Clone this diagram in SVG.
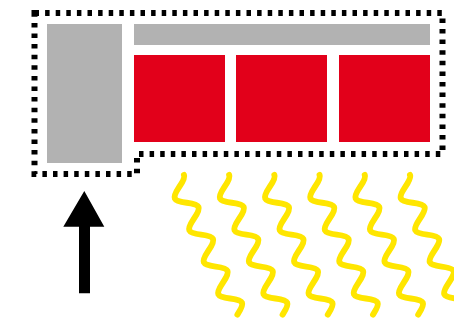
<svg xmlns="http://www.w3.org/2000/svg" xmlns:xlink="http://www.w3.org/1999/xlink" width="454" height="321" viewBox="0 0 454 321">
  <style>
    .gray { fill: #B2B2B2; }
    .red { fill: #E2001A; }
    .outline { fill: none; stroke: #000; stroke-width: 6; stroke-dasharray: 4.5 6.1; }
    .wave { fill: none; stroke: #FFE600; stroke-width: 6; stroke-linecap: round; }
  </style>
  <defs>
    <path id="wavePath" class="wave" d="M9,0 c0,2.773 -4.389,5.913 -9,8.775 s-9,6.002 -9,8.775 s4.389,5.913 9,8.775 s9,6.002 9,8.775 s-4.389,5.913 -9,8.775 s-9,6.002 -9,8.775 s4.389,5.913 9,8.775 s9,6.002 9,8.775 s-4.389,5.913 -9,8.775 s-9,6.002 -9,8.775 s4.389,5.913 9,8.775 s9,6.002 9,8.775 s-4.389,5.913 -9,8.775 s-9,6.002 -9,8.775 s4.389,5.913 9,8.775 s9,6.002 9,8.775 s-4.389,5.913 -9,8.775"/>
  </defs>
  <g id="container">
    <path class="outline" d="M34.5,13 H442.5 V154 H137 V174 H34.5 Z"/>
  </g>
  <g id="left-block"><rect class="gray" x="47" y="24" width="75" height="139"/></g>
  <g id="top-bar"><rect class="gray" x="134" y="24" width="296" height="21"/></g>
  <g id="red-1"><rect class="red" x="134" y="55" width="91" height="87"/></g>
  <g id="red-2"><rect class="red" x="236" y="55" width="91" height="87"/></g>
  <g id="red-3"><rect class="red" x="339" y="55" width="91" height="87"/></g>
  <g id="arrow">
    <path d="M84.3,191 L104.3,226.7 H90 V293.3 H79 V226.7 H63.3 Z" fill="#000"/>
  </g>
  <g id="waves">
    <use xlink:href="#wavePath" transform="translate(175.8,178.7) rotate(-24.4)"/>
    <use xlink:href="#wavePath" transform="translate(221,178.7) rotate(-24.4)"/>
    <use xlink:href="#wavePath" transform="translate(266.2,178.7) rotate(-24.4)"/>
    <use xlink:href="#wavePath" transform="translate(311.4,178.7) rotate(-24.4)"/>
    <use xlink:href="#wavePath" transform="translate(356.6,178.7) rotate(-24.4)"/>
    <use xlink:href="#wavePath" transform="translate(401.8,178.7) rotate(-24.4)"/>
  </g>
</svg>
